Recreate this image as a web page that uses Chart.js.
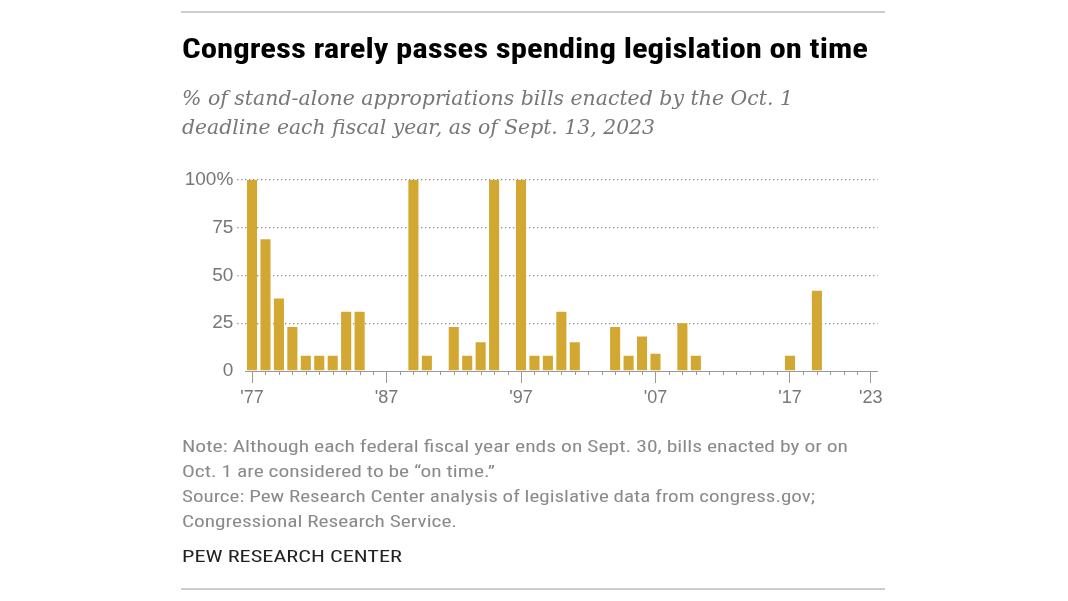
<!DOCTYPE html>
<html>
<head>
<meta charset="utf-8">
<script src="https://cdn.jsdelivr.net/npm/chart.js@4.4.0/dist/chart.umd.min.js"></script>
<style>
  html, body { margin:0; padding:0; background:#fff; }
  body { width:1068px; height:601px; position:relative; overflow:hidden; }
  #c { position:absolute; left:0; top:0; }
  .rule { position:absolute; left:181px; width:704px; height:2px; background:#cdcdcd; }
</style>
</head>
<body>
<div class="rule" style="top:11px"></div>
<div class="rule" style="top:588px"></div>
<canvas id="c" width="1068" height="601"></canvas>
<script>
// ---- Data ----
const years = [1977,1978,1979,1980,1981,1982,1983,1984,1985,1986,
               1987,1988,1989,1990,1991,1992,1993,1994,1995,1996,
               1997,1998,1999,2000,2001,2002,2003,2004,2005,2006,
               2007,2008,2009,2010,2011,2012,2013,2014,2015,2016,
               2017,2018,2019,2020,2021,2022,2023];
const pctOnTime = [100,69,38,23,8,8,8,31,31,0,
                   0,0,100,8,0,23,8,15,100,0,
                   100,8,8,31,15,0,0,23,8,18,
                   9,0,25,8,0,0,0,0,0,0,
                   8,0,42,0,0,0,0];
const xTickYears = [1977,1987,1997,2007,2017,2023];
const xTickLabels = ["'77","'87","'97","'07","'17","'23"];
const yTickValues = [0,25,50,75,100];
const yTickLabels = ["0","25","50","75","100%"];

const titleText = "Congress rarely passes spending legislation on time";
const subtitleLines = ["% of stand-alone appropriations bills enacted by the Oct. 1",
                       "deadline each fiscal year, as of Sept. 13, 2023"];
const noteLines = ["Note: Although each federal fiscal year ends on Sept. 30, bills enacted by or on",
                   "Oct. 1 are considered to be \u201con time.\u201d",
                   "Source: Pew Research Center analysis of legislative data from congress.gov;",
                   "Congressional Research Service."];
const brandText = "PEW RESEARCH CENTER";

// ---- Text placement ----
function placeLine(str, x, baseline, targetW, font, color) {
  const d = document.createElement('div');
  d.style.cssText = 'position:absolute;left:' + x + 'px;top:0;white-space:nowrap;line-height:1.2;transform-origin:0 0;font:' + font + ';color:' + color + ';';
  const s = document.createElement('span');
  s.textContent = str;
  const m = document.createElement('span');
  m.style.cssText = 'display:inline-block;width:0;height:0;vertical-align:baseline;';
  d.appendChild(s); d.appendChild(m);
  document.body.appendChild(d);
  const off = m.offsetTop;
  d.style.top = (baseline - off) + 'px';
  const w = s.getBoundingClientRect().width;
  if (targetW && w > 0) d.style.transform = 'scaleX(' + (targetW / w) + ')';
}
const narrow = '"Liberation Sans Narrow","Arial Narrow","Roboto Condensed","Liberation Sans",sans-serif';
placeLine(titleText, 182, 58.3, 686, 'bold 27px ' + narrow, '#000');
placeLine(subtitleLines[0], 182, 105, 611, 'italic 21px "DejaVu Serif",serif', '#777');
placeLine(subtitleLines[1], 182, 133.5, 473, 'italic 21px "DejaVu Serif",serif', '#777');
const noteBase = [451.7, 476.7, 501.5, 526.7];
const noteW = [666, 313, 633, 275];
noteLines.forEach((t, i) => placeLine(t, 182, noteBase[i], noteW[i], '16.5px ' + narrow, '#8a8a8a'));
placeLine(brandText, 182, 561.7, 220, '17px ' + narrow, '#222');

// ---- Chart ----
const minorTicks = {
  id: 'minorTicks',
  afterDraw(chart) {
    const xs = chart.scales.x;
    const ctx = chart.ctx;
    ctx.save();
    ctx.strokeStyle = '#999';
    ctx.lineWidth = 1;
    ctx.beginPath();
    years.forEach((yr, i) => {
      if (xTickYears.includes(yr)) return;
      const px = Math.round(xs.getPixelForValue(i)) + 0.5;
      ctx.moveTo(px, xs.top);
      ctx.lineTo(px, xs.top + 4);
    });
    ctx.stroke();
    ctx.restore();
  }
};

const gridCol = '#8a8a8a';
new Chart(document.getElementById('c'), {
  type: 'bar',
  data: {
    labels: years,
    datasets: [{
      data: pctOnTime,
      backgroundColor: '#D2A833',
      borderWidth: 0,
      barPercentage: 0.75,
      categoryPercentage: 1.0
    }]
  },
  options: {
    responsive: false,
    animation: false,
    events: [],
    layout: { padding: { left: 180, right: 190.6, top: 180, bottom: 195 } },
    plugins: { legend: { display: false }, tooltip: { enabled: false }, title: { display: false } },
    scales: {
      x: {
        type: 'category',
        offset: true,
        afterFit(s) { s.height = 35; },
        grid: {
          offset: false,
          drawOnChartArea: false,
          drawTicks: true,
          tickLength: 12,
          tickWidth: 1,
          tickColor: (c) => (c.tick && xTickYears.includes(years[c.index])) ? '#999' : 'rgba(0,0,0,0)'
        },
        border: { display: true, color: '#999', width: 1 },
        ticks: {
          autoSkip: false,
          maxRotation: 0,
          minRotation: 0,
          padding: 4,
          color: '#777',
          font: { family: '"Liberation Sans", Arial, sans-serif', size: 18 },
          callback: function (v, i) {
            const k = xTickYears.indexOf(years[i]);
            return k >= 0 ? xTickLabels[k] : '';
          }
        }
      },
      y: {
        min: 0,
        max: 100,
        afterFit(s) { s.width = 65.3; },
        afterBuildTicks(s) { s.ticks = yTickValues.map(v => ({ value: v })); },
        grid: {
          color: (c) => (c.tick && c.tick.value === 0) ? 'rgba(0,0,0,0)' : gridCol,
          lineWidth: 1.3,
          drawTicks: true,
          tickLength: 8,
          tickWidth: 1.3,
          tickBorderDash: [1.3, 2.7],
          tickColor: (c) => (c.tick && c.tick.value === 0) ? 'rgba(0,0,0,0)' : gridCol
        },
        border: { display: false, dash: [1.3, 2.7] },
        ticks: {
          padding: 4,
          color: '#777',
          font: { family: '"Liberation Sans", Arial, sans-serif', size: 19 },
          callback: function (v) {
            const k = yTickValues.indexOf(v);
            return k >= 0 ? yTickLabels[k] : '';
          }
        }
      }
    }
  },
  plugins: [minorTicks]
});
</script>
</body>
</html>
